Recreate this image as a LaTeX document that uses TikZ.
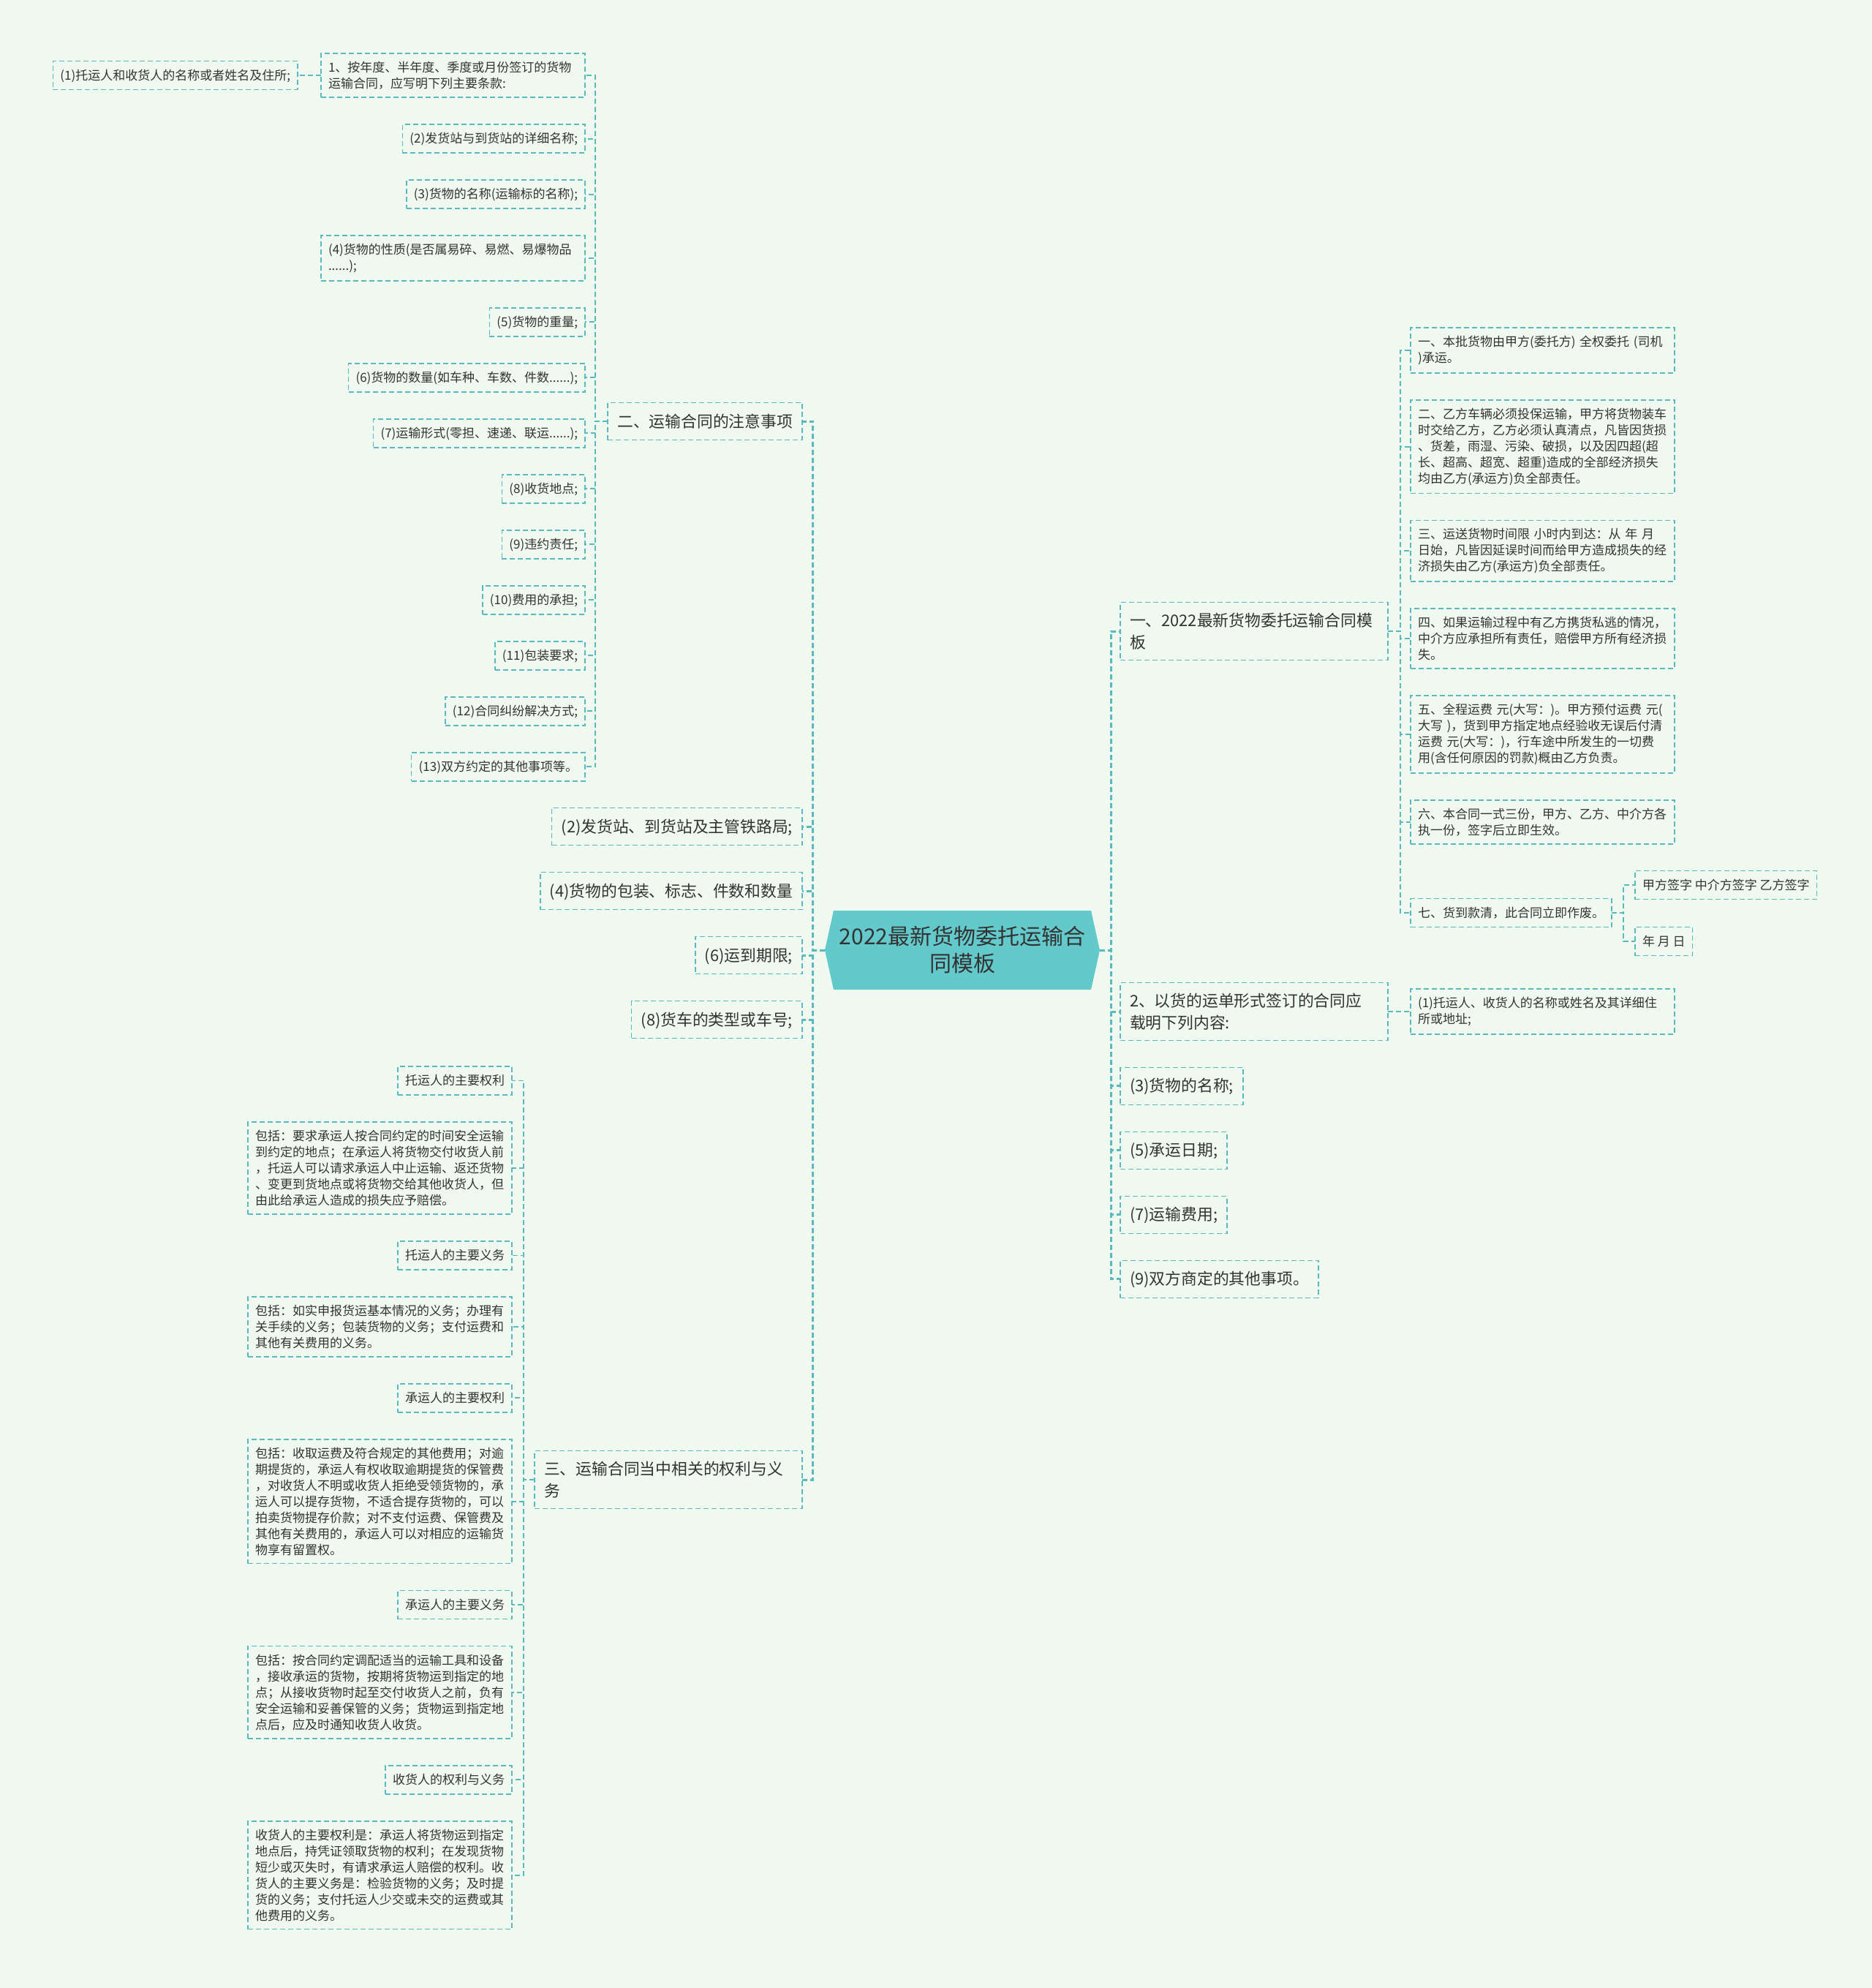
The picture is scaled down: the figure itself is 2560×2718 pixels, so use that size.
\documentclass[tikz,border=0pt]{standalone}
\usepackage{fontspec}
\setmainfont{Noto Sans CJK SC}
\usetikzlibrary{positioning,shapes.symbols}
\definecolor{bgmint}{HTML}{F0F9F0}
\definecolor{tealL}{HTML}{5AB8BF}
\definecolor{tealF}{HTML}{63C9CB}
\definecolor{ink}{HTML}{333333}
\tikzset{
  every node/.style={text=ink},
  ibase/.style={draw=tealL, line width=1.5pt, dash pattern=on 7pt off 4pt, fill=bgmint,
                inner xsep=10pt, inner ysep=11pt, outer sep=0pt, align=left,
                font=\fontsize{17pt}{22pt}\selectfont},
  item/.style ={ibase, text height=14.8pt, text depth=2.2pt},
  para/.style ={ibase, text width=341pt},
  tbase/.style={ibase, inner xsep=13pt, inner ysep=14.5pt,
                font=\fontsize{21.8pt}{29.5pt}\selectfont},
  topic/.style={tbase, text height=19pt, text depth=3pt},
  wide/.style ={tbase, text width=340pt},
  root/.style ={signal, signal to=west and east, signal pointer angle=155, fill=tealF,
                minimum width=376pt, minimum height=108pt, inner sep=0pt, align=center,
                font=\fontsize{30pt}{37pt}\selectfont},
  trunk/.style={draw=tealL, line width=3pt, dash pattern=on 7pt off 4pt},
  link/.style ={draw=tealL, line width=1.8pt, dash pattern=on 7pt off 4pt},
}
\begin{document}
\begin{tikzpicture}[x=1pt, y=-1pt]
\fill[bgmint] (0,0) rectangle (2560,2718);
\useasboundingbox (0,0) rectangle (2560,2718);

\node[root] (root) at (1316,1299) {2022最新货物委托运输合\\同模板};

% left branches
\node[topic, anchor=east] (l1) at (1097,576) {二、运输合同的注意事项};
\node[topic, anchor=east] (l2) at (1097,1130) {(2)发货站、到货站及主管铁路局;};
\node[topic, below left=37pt and 0pt of l2.south east] (l3) {(4)货物的包装、标志、件数和数量};
\node[topic, below left=37pt and 0pt of l3.south east] (l4) {(6)运到期限;};
\node[topic, below left=37pt and 0pt of l4.south east] (l5) {(8)货车的类型或车号;};
\node[wide, anchor=east] (l6) at (1097,2023) {三、运输合同当中相关的权利与义\\务};

% items of l1
\node[para, anchor=north east] (n1) at (800,73) {1、按年度、半年度、季度或月份签订的货物\\运输合同，应写明下列主要条款:};
\node[item, left=32pt of n1] (n1a) {(1)托运人和收货人的名称或者姓名及住所;};
\node[item, below left=37pt and 0pt of n1.south east] (n2) {(2)发货站与到货站的详细名称;};
\node[item, below left=37pt and 0pt of n2.south east] (n3) {(3)货物的名称(运输标的名称);};
\node[para, below left=37pt and 0pt of n3.south east] (n4) {(4)货物的性质(是否属易碎、易燃、易爆物品\\......);};
\node[item, below left=37pt and 0pt of n4.south east] (n5) {(5)货物的重量;};
\node[item, below left=37pt and 0pt of n5.south east] (n6) {(6)货物的数量(如车种、车数、件数......);};
\node[item, below left=37pt and 0pt of n6.south east] (n7) {(7)运输形式(零担、速递、联运......);};
\node[item, below left=37pt and 0pt of n7.south east] (n8) {(8)收货地点;};
\node[item, below left=37pt and 0pt of n8.south east] (n9) {(9)违约责任;};
\node[item, below left=37pt and 0pt of n9.south east] (n10) {(10)费用的承担;};
\node[item, below left=37pt and 0pt of n10.south east] (n11) {(11)包装要求;};
\node[item, below left=37pt and 0pt of n11.south east] (n12) {(12)合同纠纷解决方式;};
\node[item, below left=37pt and 0pt of n12.south east] (n13) {(13)双方约定的其他事项等。};

% items of l6
\node[item, anchor=north east] (s1) at (700,1458) {托运人的主要权利};
\node[para, below left=37pt and 0pt of s1.south east] (s2) {包括：要求承运人按合同约定的时间安全运输\\到约定的地点；在承运人将货物交付收货人前\\，托运人可以请求承运人中止运输、返还货物\\、变更到货地点或将货物交给其他收货人，但\\由此给承运人造成的损失应予赔偿。};
\node[item, below left=37pt and 0pt of s2.south east] (s3) {托运人的主要义务};
\node[para, below left=37pt and 0pt of s3.south east] (s4) {包括：如实申报货运基本情况的义务；办理有\\关手续的义务；包装货物的义务；支付运费和\\其他有关费用的义务。};
\node[item, below left=37pt and 0pt of s4.south east] (s5) {承运人的主要权利};
\node[para, below left=37pt and 0pt of s5.south east] (s6) {包括：收取运费及符合规定的其他费用；对逾\\期提货的，承运人有权收取逾期提货的保管费\\，对收货人不明或收货人拒绝受领货物的，承\\运人可以提存货物，不适合提存货物的，可以\\拍卖货物提存价款；对不支付运费、保管费及\\其他有关费用的，承运人可以对相应的运输货\\物享有留置权。};
\node[item, below left=37pt and 0pt of s6.south east] (s7) {承运人的主要义务};
\node[para, below left=37pt and 0pt of s7.south east] (s8) {包括：按合同约定调配适当的运输工具和设备\\，接收承运的货物，按期将货物运到指定的地\\点；从接收货物时起至交付收货人之前，负有\\安全运输和妥善保管的义务；货物运到指定地\\点后，应及时通知收货人收货。};
\node[item, below left=37pt and 0pt of s8.south east] (s9) {收货人的权利与义务};
\node[para, below left=37pt and 0pt of s9.south east] (s10) {收货人的主要权利是：承运人将货物运到指定\\地点后，持凭证领取货物的权利；在发现货物\\短少或灭失时，有请求承运人赔偿的权利。收\\货人的主要义务是：检验货物的义务；及时提\\货的义务；支付托运人少交或未交的运费或其\\他费用的义务。};

% right branches
\node[wide, anchor=west] (r1) at (1532,863) {一、2022最新货物委托运输合同模\\板};
\node[wide, anchor=west] (r2) at (1532,1383) {2、以货的运单形式签订的合同应\\载明下列内容:};
\node[topic, below right=37pt and 0pt of r2.south west] (r3) {(3)货物的名称;};
\node[topic, below right=37pt and 0pt of r3.south west] (r4) {(5)承运日期;};
\node[topic, below right=37pt and 0pt of r4.south west] (r5) {(7)运输费用;};
\node[topic, below right=37pt and 0pt of r5.south west] (r6) {(9)双方商定的其他事项。};

% items of r1
\node[para, anchor=north west] (t1) at (1929,448) {一、本批货物由甲方(委托方) 全权委托 (司机\\)承运。};
\node[para, below right=37pt and 0pt of t1.south west] (t2) {二、乙方车辆必须投保运输，甲方将货物装车\\时交给乙方，乙方必须认真清点，凡皆因货损\\、货差，雨湿、污染、破损，以及因四超(超\\长、超高、超宽、超重)造成的全部经济损失\\均由乙方(承运方)负全部责任。};
\node[para, below right=37pt and 0pt of t2.south west] (t3) {三、运送货物时间限 小时内到达：从 年 月\\日始，凡皆因延误时间而给甲方造成损失的经\\济损失由乙方(承运方)负全部责任。};
\node[para, below right=37pt and 0pt of t3.south west] (t4) {四、如果运输过程中有乙方携货私逃的情况，\\中介方应承担所有责任，赔偿甲方所有经济损\\失。};
\node[para, below right=37pt and 0pt of t4.south west] (t5) {五、全程运费 元(大写：)。甲方预付运费 元(\\大写 )，货到甲方指定地点经验收无误后付清\\运费 元(大写：)，行车途中所发生的一切费\\用(含任何原因的罚款)概由乙方负责。};
\node[para, below right=37pt and 0pt of t5.south west] (t6) {六、本合同一式三份，甲方、乙方、中介方各\\执一份，签字后立即生效。};
\node[item, anchor=west] (t7) at (1929,1248) {七、货到款清，此合同立即作废。};
\node[item, anchor=west] (t7a) at (2236,1210) {甲方签字 中介方签字 乙方签字};
\node[item, anchor=west] (t7b) at (2236,1287) {年 月 日};
\node[para, right=31pt of r2] (u1) {(1)托运人、收货人的名称或姓名及其详细住\\所或地址;};

% connectors
\foreach \n in {l1,l2,l3,l4,l5,l6}
  \draw[trunk] (root.west) -- ++(-16,0) |- (\n.east);
\foreach \n in {r1,r2,r3,r4,r5,r6}
  \draw[trunk] (root.east) -- ++(15,0) |- (\n.west);
\foreach \i in {1,...,13}
  \draw[link] (l1.west) -- ++(-17,0) |- (n\i.east);
\draw[link] (n1.west) -- (n1a.east);
\foreach \i in {1,...,10}
  \draw[link] (l6.west) -- ++(-15,0) |- (s\i.east);
\foreach \i in {1,...,7}
  \draw[link] (r1.east) -- ++(17,0) |- (t\i.west);
\draw[link] (t7.east) -- ++(16,0) |- (t7a.west);
\draw[link] (t7.east) -- ++(16,0) |- (t7b.west);
\draw[link] (r2.east) -- (u1.west);

\end{tikzpicture}
\end{document}
